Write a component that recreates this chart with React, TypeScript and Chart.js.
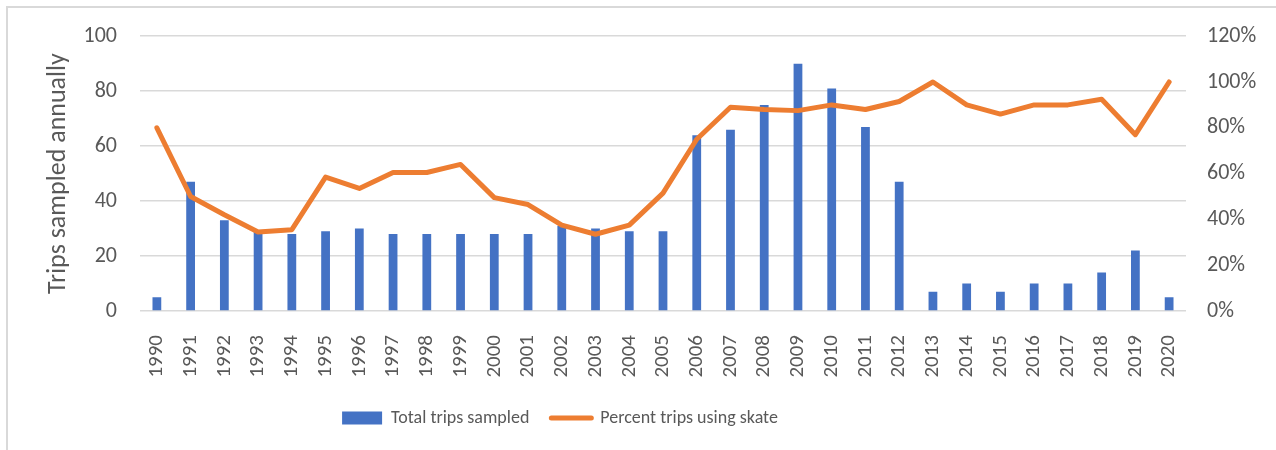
import React, { useEffect, useRef } from 'react';
import { Chart, registerables } from 'chart.js';

Chart.register(...registerables);

const years = [
  '1990', '1991', '1992', '1993', '1994', '1995', '1996', '1997', '1998', '1999',
  '2000', '2001', '2002', '2003', '2004', '2005', '2006', '2007', '2008', '2009',
  '2010', '2011', '2012', '2013', '2014', '2015', '2016', '2017', '2018', '2019', '2020',
];

const totalTrips = [
  5, 47, 33, 29, 28, 29, 30, 28, 28, 28,
  28, 28, 31, 30, 29, 29, 64, 66, 75, 90,
  81, 67, 47, 7, 10, 7, 10, 10, 14, 22, 5,
];

const percentSkate = [
  80, 50, 42, 34.5, 35.5, 58.5, 53.5, 60.5, 60.5, 64,
  49.5, 46.5, 37.5, 33.5, 37.5, 51.5, 75, 89, 88, 87.5,
  90, 88, 91.5, 100, 90, 86, 90, 90, 92.5, 77, 100,
];

const leftAxisTitle = 'Trips sampled annually';
const barLabel = 'Total trips sampled';
const lineLabel = 'Percent trips using skate';

const FONT = 'Carlito, Lato, "Open Sans", sans-serif';
const TEXT = '#595959';
const BAR = '#4472C4';
const LINE = '#ED7D31';
const GRID = '#d9d9d9';

const PLOT_LEFT = 140;
const PLOT_RIGHT = 1186;
const PLOT_BOTTOM = 311;
const W = 1276;
const H = 450;
const PAD_BOTTOM = 13;

const shiftLegend = {
  id: 'shiftLegend',
  afterLayout(chart: any) {
    const l = chart.legend;
    if (l) {
      l.left -= 78;
      l.right -= 78;
    }
  },
};

export default function App() {
  const ref = useRef<HTMLCanvasElement>(null);

  useEffect(() => {
    const chart = new Chart(ref.current as HTMLCanvasElement, {
      type: 'bar',
      data: {
        labels: years,
        datasets: [
          {
            type: 'bar',
            label: barLabel,
            data: totalTrips,
            backgroundColor: BAR,
            borderWidth: 0,
            yAxisID: 'y',
            categoryPercentage: 1,
            barPercentage: 0.26,
            order: 2,
          } as any,
          {
            type: 'line',
            label: lineLabel,
            data: percentSkate,
            borderColor: LINE,
            backgroundColor: LINE,
            borderWidth: 5,
            pointRadius: 0,
            tension: 0,
            borderJoinStyle: 'round',
            borderCapStyle: 'round',
            yAxisID: 'y1',
            order: 1,
          } as any,
        ],
      },
      options: {
        responsive: false,
        animation: false,
        devicePixelRatio: 1,
        layout: { padding: { top: 35, left: 0, right: 0, bottom: PAD_BOTTOM } },
        plugins: {
          tooltip: { enabled: false },
          legend: {
            position: 'bottom',
            labels: {
              color: TEXT,
              font: { family: FONT, size: 18 },
              usePointStyle: true,
              pointStyleWidth: 40,
              boxWidth: 40,
              boxHeight: 13,
              padding: 22,
              sort: (a: any, b: any) => a.datasetIndex - b.datasetIndex,
              generateLabels: (chart: any) => {
                const items = (Chart.defaults.plugins.legend.labels as any).generateLabels(chart);
                items.forEach((it: any) => {
                  if (it.datasetIndex === 0) {
                    it.pointStyle = 'rect';
                    it.lineWidth = 0;
                    it.fillStyle = BAR;
                    it.strokeStyle = BAR;
                  } else {
                    it.pointStyle = 'line';
                    it.lineWidth = 5;
                    it.strokeStyle = LINE;
                    it.fillStyle = LINE;
                    it.lineCap = 'round';
                  }
                });
                return items;
              },
            },
          },
        },
        scales: {
          x: {
            type: 'category',
            offset: true,
            grid: { display: false },
            border: { display: false },
            ticks: {
              autoSkip: false,
              minRotation: 90,
              maxRotation: 90,
              padding: 16,
              color: TEXT,
              font: { family: FONT, size: 21 },
            },
            afterFit: (s: any) => {
              const lh = s.chart.legend ? s.chart.legend.height : 0;
              s.height = H - PLOT_BOTTOM - lh - PAD_BOTTOM;
            },
          },
          y: {
            type: 'linear',
            position: 'left',
            min: 0,
            max: 100,
            ticks: {
              stepSize: 20,
              padding: 23,
              color: TEXT,
              font: { family: FONT, size: 22 },
            },
            grid: { color: GRID, lineWidth: 1.5, drawTicks: false },
            border: { display: false },
            title: {
              display: true,
              text: leftAxisTitle,
              color: TEXT,
              font: { family: FONT, size: 26 },
              padding: { top: 43, bottom: 0 },
            },
            afterFit: (s: any) => {
              s.width = PLOT_LEFT;
            },
          },
          y1: {
            type: 'linear',
            position: 'right',
            min: 0,
            max: 120,
            ticks: {
              stepSize: 20,
              padding: 21,
              color: TEXT,
              font: { family: FONT, size: 22 },
              callback: (v: any) => v + '%',
            },
            grid: { display: false, drawTicks: false },
            border: { display: false },
            afterFit: (s: any) => {
              s.width = W - PLOT_RIGHT;
            },
          },
        },
      },
      plugins: [shiftLegend],
    } as any);
    return () => chart.destroy();
  }, []);

  return (
    <div
      style={{
        position: 'absolute',
        left: 0,
        top: 0,
        width: W,
        height: H,
        overflow: 'hidden',
        background: '#ffffff',
      }}
    >
      <div
        style={{
          position: 'absolute',
          left: 6,
          top: 6,
          width: 1400,
          height: 600,
          borderLeft: '2px solid #d9d9d9',
          borderTop: '2px solid #d9d9d9',
        }}
      />
      <canvas
        ref={ref}
        width={W}
        height={H}
        style={{ position: 'absolute', left: 0, top: 0, width: W, height: H }}
      />
    </div>
  );
}
